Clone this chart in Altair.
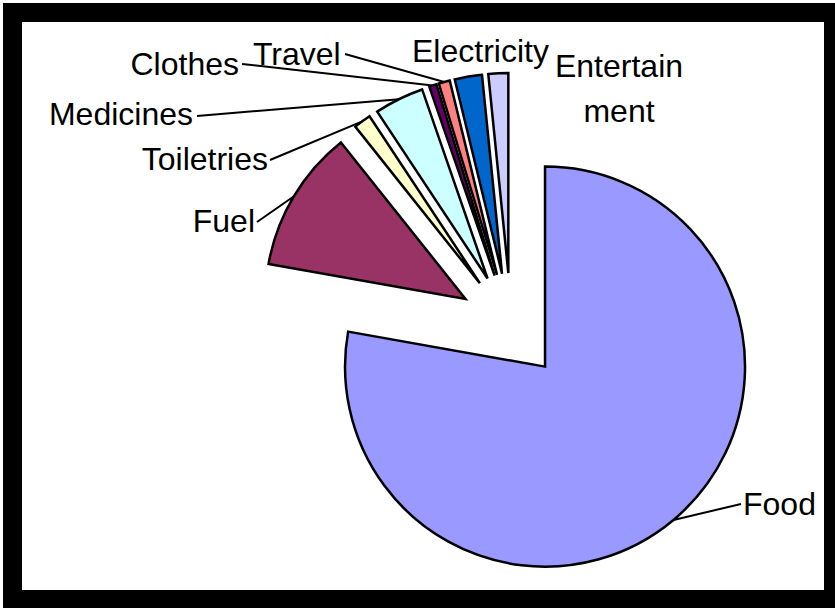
import altair as alt
import pandas as pd

# ---- data ----
categories = ["Food", "Fuel", "Toiletries", "Medicines", "Clothes", "Travel", "Electricity", "Entertainment"]
shares = [77.8, 11.5, 1.4, 4.0, 0.6, 0.9, 2.2, 1.6]
label_texts = ["Food", "Fuel", "Toiletries", "Medicines", "Clothes", "Travel", "Electricity", "Entertain\nment"]
colors = ["#9999FF", "#993366", "#FFFFCC", "#CCFFFF", "#660066", "#FF8080", "#0066CC", "#CCCCFF"]

# ---- layout (page pixels) ----
PAD = 12.5
CX, CY = 511 - PAD, 326 - PAD
R = 200
EXPLODE = 53
label_x = [743, 255, 268, 193, 239, 253, 412, 619]
label_y = [515, 232, 170, 125, 75, 65, 62, 77]
label_align = ["left", "right", "right", "right", "right", "left", "left", "center"]
leader_x = [741, 257, 270, 197, 242, 345, None, None]
leader_y = [504, 222, 160, 116, 64, 54, None, None]

df = pd.DataFrame({
    "cat": categories,
    "share": shares,
    "order": list(range(len(categories))),
    "label": label_texts,
    "lx": [v - PAD for v in label_x],
    "ly": [v - PAD for v in label_y],
    "align": label_align,
    "ex": [None if v is None else v - PAD for v in leader_x],
    "ey": [None if v is None else v - PAD for v in leader_y],
})

base = (
    alt.Chart(df)
    .transform_window(cum="sum(share)", sort=[alt.SortField("order")], frame=[None, 0])
    .transform_joinaggregate(total="sum(share)")
    .transform_calculate(
        a0="2*PI*(datum.cum-datum.share)/datum.total",
        a1="2*PI*datum.cum/datum.total",
    )
    .transform_calculate(mid="(datum.a0+datum.a1)/2")
    .transform_calculate(
        px=f"{CX}+{EXPLODE}*sin(datum.mid)",
        py=f"{CY}-{EXPLODE}*cos(datum.mid)",
        ox=f"{CX}+{EXPLODE + R}*sin(datum.mid)",
        oy=f"{CY}-{EXPLODE + R}*cos(datum.mid)",
    )
)

arcs = base.mark_arc(radius=R, stroke="black", strokeWidth=2.5).encode(
    theta=alt.Theta("a0:Q", scale=None),
    theta2="a1:Q",
    x=alt.X("px:Q", scale=None, axis=None),
    y=alt.Y("py:Q", scale=None, axis=None),
    color=alt.Color("cat:N", scale=alt.Scale(domain=categories, range=colors), legend=None),
)

rules = base.transform_filter("isValid(datum.ex)").mark_rule(color="black", strokeWidth=2).encode(
    x=alt.X("ox:Q", scale=None),
    y=alt.Y("oy:Q", scale=None),
    x2="ex:Q",
    y2="ey:Q",
)

def text_layer(al):
    return base.transform_filter(f"datum.align == '{al}'").mark_text(
        align=al, baseline="alphabetic", font="Liberation Sans", fontSize=32,
        lineBreak="\n", lineHeight=45, color="black",
    ).encode(
        x=alt.X("lx:Q", scale=None),
        y=alt.Y("ly:Q", scale=None),
        text="label:N",
    )

chart = (
    alt.layer(arcs, rules, text_layer("left"), text_layer("right"), text_layer("center"))
    .properties(
        width=821,
        height=587,
        padding={"left": 12.5, "top": 12.5, "right": 1.5, "bottom": 8.5},
        autosize=alt.AutoSizeParams(type="none"),
        background="white",
    )
    .configure_view(stroke="black", strokeWidth=19)
)

chart.save("out.html", embed_options={"renderer": "svg", "actions": False})
